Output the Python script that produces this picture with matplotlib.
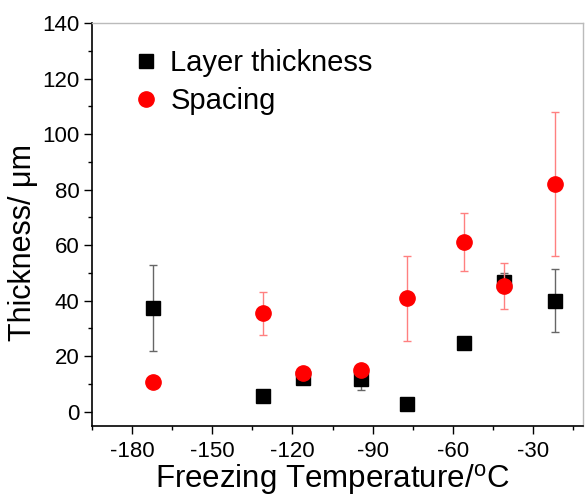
import matplotlib
matplotlib.use('Agg')
import matplotlib.pyplot as plt
import numpy as np

plt.rcParams['font.family'] = ['Liberation Sans', 'DejaVu Sans']
plt.rcParams['mathtext.fontset'] = 'custom'
plt.rcParams['mathtext.rm'] = 'Liberation Sans'
plt.rcParams['axes.unicode_minus'] = False

# freezing temperatures (deg C)
temps = [-172.3, -131.2, -116.2, -94.2, -77.1, -56.0, -40.9, -21.8]

# layer thickness (um) and its error
layer = [37.3, 5.6, 12.0, 11.7, 2.8, 24.9, 46.8, 40.0]
layer_err = [15.6, 0, 2.0, 4.0, 0, 0, 3.0, 11.3]

# spacing (um) and its error
spacing = [10.8, 35.4, 14.0, 15.0, 40.8, 61.2, 45.4, 81.9]
spacing_err = [2.0, 7.7, 1.0, 1.5, 15.2, 10.5, 8.3, 26.0]

xticks = [-180, -150, -120, -90, -60, -30]
yticks = [0, 20, 40, 60, 80, 100, 120, 140]

fig = plt.figure(figsize=(5.85, 4.96), dpi=100)
ax = fig.add_axes([0.1573, 0.141, 0.8393, 0.8126])

ax.errorbar(temps, layer, yerr=layer_err, fmt='none', ecolor='#666666',
            elinewidth=1, capsize=3, capthick=1, zorder=2)
ax.plot(temps, layer, 's', color='black', markersize=10, zorder=3,
        label='Layer thickness')
ax.errorbar(temps, spacing, yerr=spacing_err, fmt='none', ecolor='#ff8080',
            elinewidth=1, capsize=3, capthick=1, zorder=4)
ax.plot(temps, spacing, 'o', color='#ff0000', markersize=11, zorder=5,
        label='Spacing')

ax.set_xlim(-190.2, -11.3)
ax.set_ylim(-5.2, 140)
ax.set_xticks(xticks)
ax.set_yticks(yticks)
ax.set_xticks(np.arange(-195, -10, 30), minor=True)
ax.set_yticks(np.arange(10, 140, 20), minor=True)

ax.tick_params(axis='both', which='major', direction='out', length=6,
               width=1, labelsize=16)
ax.tick_params(axis='both', which='minor', direction='out', length=3,
               width=1)
ax.tick_params(axis='x', pad=5)
ax.tick_params(axis='y', pad=3)

for side in ['top', 'right']:
    ax.spines[side].set_color('#bbbbbb')
    ax.spines[side].set_linewidth(1)
for side in ['left', 'bottom']:
    ax.spines[side].set_linewidth(1.2)

ax.set_xlabel(r'Freezing Temperature/$^{\mathrm{o}}$C', fontsize=22.5)
ax.set_ylabel('Thickness/ \u03bcm', fontsize=22)
ax.xaxis.set_label_coords(0.49, -0.09)
ax.yaxis.set_label_coords(-0.11, 0.455)

ax.legend(loc='upper left', bbox_to_anchor=(0.038, 0.985), frameon=False,
          fontsize=21, handletextpad=0.35, labelspacing=0.32,
          handlelength=1.0, borderaxespad=0.3)

fig.savefig('out.png', dpi=100)
